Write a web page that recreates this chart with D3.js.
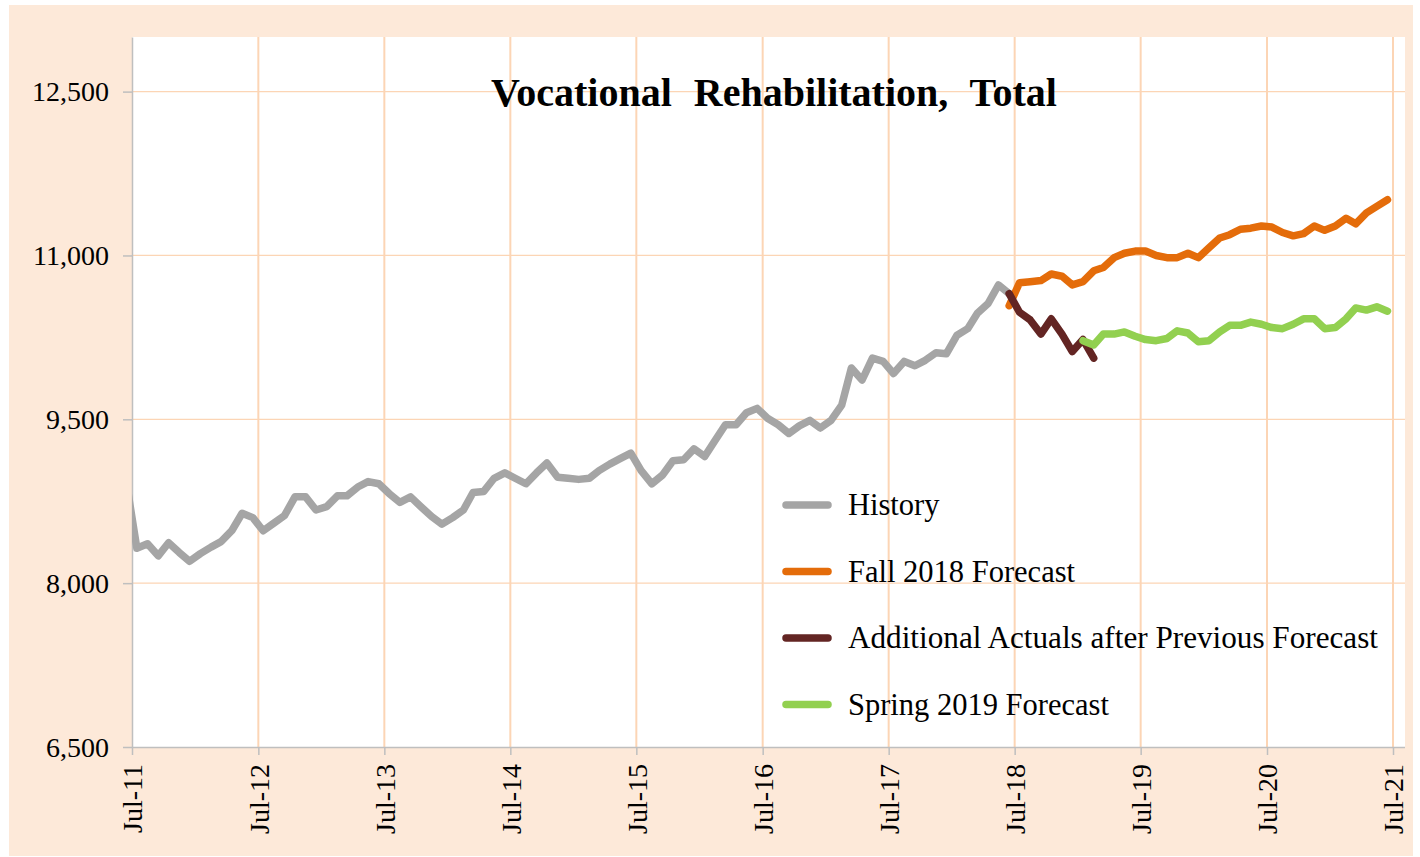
<!DOCTYPE html>
<html>
<head>
<meta charset="utf-8">
<script src="https://cdn.jsdelivr.net/npm/d3@7"></script>
<style>
  body { margin:0; background:#fff; }
  text { font-family:"Liberation Serif","Times New Roman",serif; fill:#000; }
</style>
</head>
<body>
<svg id="chart" width="1420" height="857"></svg>
<script>
// monthly values, points sit mid-month
var historyStart = "2011-06";
var historyValues = [8920,
  8320,8360,8250,8370,8280,8200,8270,8330,8380,8480,8640,8600,
  8480,8550,8620,8790,8790,8670,8700,8800,8800,8880,8930,8910,
  8820,8740,8790,8700,8610,8540,8600,8670,8830,8840,8960,9010,
  8960,8910,9010,9100,8970,8960,8950,8960,9030,9090,9140,9190,
  9030,8910,8990,9120,9130,9230,9160,9310,9450,9450,9560,9600,
  9510,9450,9370,9440,9490,9420,9490,9630,9970,9860,10060,10030,
  9920,10030,9990,10040,10110,10100,10270,10330,10470,10560,10730,10650];

var fallStart = "2018-06";
var fallValues = [10540,10750,10760,10770,10830,10810,10730,10760,10860,10890,10980,11020,
  11040,11040,11000,10980,10980,11020,10980,11070,11160,11190,11240,11250,
  11270,11260,11210,11180,11200,11270,11230,11270,11340,11290,11390,11450,11510];

var actualsStart = "2018-06";
var actualsValues = [10650,10480,10410,10280,10420,10280,10120,10230,10060];

var springStart = "2019-01";
var springValues = [10220,10180,10280,10280,10300,10260,10230,10220,10240,10310,10290,10210,
  10220,10300,10360,10360,10390,10370,10340,10330,10370,10420,10420,10330,
  10340,10420,10520,10500,10530,10490];

var yTicks = [6500, 8000, 9500, 11000, 12500];
var xTickYears = [2011,2012,2013,2014,2015,2016,2017,2018,2019,2020,2021];

var seriesList = [
  {name:"History", start:historyStart, values:historyValues, color:"#a5a5a5"},
  {name:"Fall 2018 Forecast", start:fallStart, values:fallValues, color:"#e46c0a"},
  {name:"Additional Actuals after Previous Forecast", start:actualsStart, values:actualsValues, color:"#632523"},
  {name:"Spring 2019 Forecast", start:springStart, values:springValues, color:"#92d050"}
];

var svg = d3.select("#chart");
var pLeft = 132, pRight = 1405, pTop = 37, pBottom = 747;

svg.append("rect").attr("x",9).attr("y",5).attr("width",1404).attr("height",851).attr("fill","#fde9d9");
svg.append("rect").attr("x",pLeft).attr("y",pTop).attr("width",pRight-pLeft).attr("height",pBottom-pTop).attr("fill","#fff");

var x = d3.scaleTime()
  .domain([new Date(2011,6,1), new Date(2021,6,1)])
  .range([pLeft, 1393]);
var y = d3.scaleLinear().domain([6500, 13000]).range([pBottom, pTop]);

var parseMonth = d3.timeParse("%Y-%m");
function toPoints(s){
  var d0 = parseMonth(s.start);
  return s.values.map(function(v,i){
    var d = d3.timeMonth.offset(d0, i);
    return {date:new Date(d.getFullYear(), d.getMonth(), 15), value:v};
  });
}

var xTicks = xTickYears.map(function(yr){ return new Date(yr,6,1); });

// grid
svg.append("g").selectAll("line").data(yTicks.slice(1)).join("line")
  .attr("x1",pLeft).attr("x2",pRight)
  .attr("y1",function(d){return y(d)}).attr("y2",function(d){return y(d)})
  .attr("stroke","#fcd5b5").attr("stroke-width",1.3);
svg.append("g").selectAll("line").data(xTicks.slice(1)).join("line")
  .attr("x1",function(d){return x(d)}).attr("x2",function(d){return x(d)})
  .attr("y1",pTop).attr("y2",pBottom)
  .attr("stroke","#fcd5b5").attr("stroke-width",2);

// axes
var yAxis = svg.append("g").attr("transform","translate("+pLeft+",0)")
  .call(d3.axisLeft(y).tickValues(yTicks).tickSize(9).tickSizeOuter(0).tickPadding(14).tickFormat(d3.format(",")));
var xAxis = svg.append("g").attr("transform","translate(0,"+pBottom+")")
  .call(d3.axisBottom(x).tickValues(xTicks).tickSize(8).tickSizeOuter(0).tickFormat(d3.timeFormat("%b-%y")));
// bottom axis line runs to the plot edge
xAxis.select(".domain").attr("d","M"+pLeft+",0.5H"+pRight);
[yAxis, xAxis].forEach(function(a){
  a.select(".domain").attr("stroke","#bfbfbf").attr("stroke-width",1.5);
  a.selectAll(".tick line").attr("stroke","#bfbfbf").attr("stroke-width",1.5);
});
yAxis.selectAll("text").attr("font-size",28).attr("fill","#000")
  .style("font-family","Liberation Serif, serif").attr("dy","0.33em");
xAxis.selectAll("text").attr("font-size",28).attr("fill","#000")
  .style("font-family","Liberation Serif, serif")
  .attr("transform","rotate(-90)").attr("text-anchor","end")
  .attr("x",-17).attr("y",0).attr("dy","0.35em");

// lines
svg.append("clipPath").attr("id","plotclip").append("rect")
  .attr("x",pLeft).attr("y",pTop).attr("width",pRight-pLeft).attr("height",pBottom-pTop);

var line = d3.line().x(function(d){return x(d.date)}).y(function(d){return y(d.value)});
var lines = svg.append("g").attr("clip-path","url(#plotclip)");
seriesList.forEach(function(s){
  lines.append("path").datum(toPoints(s))
    .attr("d",line).attr("fill","none")
    .attr("stroke",s.color).attr("stroke-width",7.5)
    .attr("stroke-linejoin","round").attr("stroke-linecap","round");
});

// title
svg.append("text").attr("x",774).attr("y",106).attr("text-anchor","middle")
  .attr("font-size",40).attr("font-weight","bold").style("word-spacing","12px")
  .text("Vocational Rehabilitation, Total");

// legend
var legend = svg.append("g");
seriesList.forEach(function(s,i){
  var ly = 505 + i*66.5;
  legend.append("line").attr("x1",786).attr("x2",828).attr("y1",ly).attr("y2",ly)
    .attr("stroke",s.color).attr("stroke-width",7.5).attr("stroke-linecap","round");
  legend.append("text").attr("x",848).attr("y",ly+10).attr("font-size",30.5)
    .attr("textLength", i == 2 ? 530 : null).attr("lengthAdjust","spacingAndGlyphs")
    .text(s.name);
});
</script>
</body>
</html>
